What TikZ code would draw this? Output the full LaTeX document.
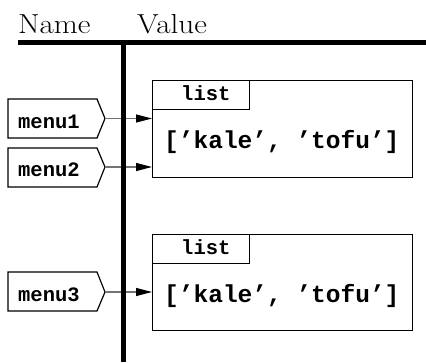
\documentclass[tikz,border=0pt]{standalone}
\usepackage{fontspec}
\newfontfamily\monof{Liberation Mono}
\usetikzlibrary{arrows.meta}
\begin{document}
\begin{tikzpicture}[x=1pt,y=-1pt,
  rulel/.style={line width=5.5pt},
  framebox/.style={draw, line width=1.3pt, inner sep=0pt, anchor=north west},
  tagshape/.style={draw, line width=1.2pt, line join=miter},
  ptr/.style={draw=black!55, line width=1.2pt, -{Triangle[length=16pt,width=8pt,color=black]}},
  lbl/.style={anchor=base west, inner sep=0pt, font=\monof\bfseries\fontsize{20.5}{22}\selectfont},
  val/.style={anchor=base west, inner sep=0pt, font=\monof\bfseries\fontsize{24.5}{26}\selectfont},
  head/.style={anchor=base west, inner sep=0pt, font=\fontsize{27.5}{30}\selectfont}]
\useasboundingbox (0,0) rectangle (426,362);

% headers
\node[head] (hname) at (18,33) {\scalebox{1.13}[1]{Name}};
\node[head] (hvalue) at (137,33) {\scalebox{1.13}[1]{Value}};

% list objects
\node[framebox, minimum width=260pt, minimum height=97pt] (b1) at (152,80) {};
\node[framebox, minimum width=97pt, minimum height=29pt] (t1) at (152,80) {};
\node[lbl] (l1) at (181,100) {list};
\node[val] (v1) at (164,148) {[’kale’, ’tofu’]};

\node[framebox, minimum width=260pt, minimum height=96pt] (b2) at (152,234) {};
\node[framebox, minimum width=97pt, minimum height=29pt] (t2) at (152,234) {};
\node[lbl] (l2) at (181,254) {list};
\node[val] (v2) at (164,302) {[’kale’, ’tofu’]};

% name tags
\draw[tagshape] (8,99) -- (97,99) -- (105,118.5) -- (97,138) -- (8,138) -- cycle;
\coordinate (p1) at (105,118.5);
\node[lbl] (n1) at (18,128) {menu1};

\draw[tagshape] (8,148) -- (97,148) -- (105,167) -- (97,187) -- (8,187) -- cycle;
\coordinate (p2) at (105,167);
\node[lbl] (n2) at (18,176) {menu2};

\draw[tagshape] (8,272) -- (97,272) -- (105,292) -- (97,311) -- (8,311) -- cycle;
\coordinate (p3) at (105,292);
\node[lbl] (n3) at (18,301) {menu3};

% pointers
\draw[ptr] (p1) -- (b1.west |- p1);
\draw[ptr] (p2) -- (b1.west |- p2);
\draw[ptr] (p3) -- (b2.west |- p3);

% rules
\coordinate (hl) at (18,42.5);
\coordinate (hr) at (426,42.5);
\coordinate (vt) at (123.7,42.5);
\coordinate (vb) at (123.7,362);
\draw[rulel] (hl) -- (hr);
\draw[rulel] (vt) -- (vb);
\end{tikzpicture}
\end{document}
